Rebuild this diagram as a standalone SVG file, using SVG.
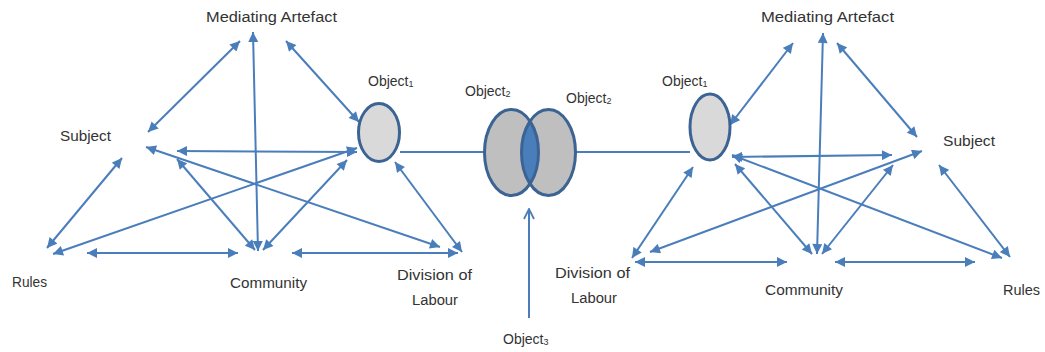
<svg xmlns="http://www.w3.org/2000/svg" width="1045" height="352" viewBox="0 0 1045 352">
  <defs>
    <style>
      .lbl { font-family: "Liberation Sans", Arial, sans-serif; font-size: 14px; fill: #333333; }
      .sub { font-size: 9px; }
      .arr { stroke: #4a7ebb; stroke-width: 2; fill: none; marker-start: url(#ah); marker-end: url(#ah); }
      .link { stroke: #4a7ebb; stroke-width: 2; fill: none; }
      .obj { fill: #d9d9d9; stroke: #3b6393; stroke-width: 3; }
      .obj2 { fill: #bfbfbf; stroke: none; }
      .ring { fill: none; stroke: #3b6393; stroke-width: 3; }
    </style>
    <marker id="ah" viewBox="0 0 10 10" refX="10" refY="5" markerWidth="11" markerHeight="10" markerUnits="userSpaceOnUse" orient="auto-start-reverse">
      <path d="M0,0 L10,5 L0,10 z" fill="#4a7ebb"/>
    </marker>
    <marker id="open" viewBox="0 0 12 12" refX="11" refY="6" markerWidth="12" markerHeight="12" markerUnits="userSpaceOnUse" orient="auto">
      <path d="M1,1 L11,6 L1,11" fill="none" stroke="#4a7ebb" stroke-width="1.8"/>
    </marker>
    <clipPath id="lensClip">
      <ellipse cx="511.5" cy="152.5" rx="27" ry="43"/>
    </clipPath>
  </defs>

  <!-- connectors -->
  <g id="connectors">
    <!-- left activity system -->
    <line class="arr" x1="240" y1="41" x2="148" y2="132"/>
    <line class="arr" x1="253" y1="32" x2="258" y2="251"/>
    <line class="arr" x1="286" y1="41" x2="359" y2="122"/>
    <line class="arr" x1="357" y1="152" x2="177" y2="151"/>
    <line class="arr" x1="146" y1="147" x2="440" y2="247"/>
    <line class="arr" x1="177" y1="159" x2="255" y2="250"/>
    <line class="arr" x1="47" y1="248" x2="122" y2="158"/>
    <line class="arr" x1="53" y1="254" x2="357" y2="148"/>
    <line class="arr" x1="87" y1="253" x2="238" y2="253"/>
    <line class="arr" x1="292" y1="253" x2="458" y2="253"/>
    <line class="arr" x1="263" y1="250" x2="347" y2="160"/>
    <line class="arr" x1="462" y1="252" x2="395" y2="162"/>
    <!-- right activity system -->
    <line class="arr" x1="793" y1="43" x2="730" y2="125"/>
    <line class="arr" x1="823" y1="33" x2="817" y2="254"/>
    <line class="arr" x1="837" y1="43" x2="917" y2="137"/>
    <line class="arr" x1="732" y1="157" x2="892" y2="155"/>
    <line class="arr" x1="650" y1="252" x2="922" y2="151"/>
    <line class="arr" x1="732" y1="155" x2="1002" y2="258"/>
    <line class="arr" x1="735" y1="164" x2="812" y2="254"/>
    <line class="arr" x1="822" y1="254" x2="893" y2="165"/>
    <line class="arr" x1="939" y1="165" x2="1010" y2="257"/>
    <line class="arr" x1="632" y1="258" x2="693" y2="167"/>
    <line class="arr" x1="635" y1="262" x2="787" y2="262"/>
    <line class="arr" x1="835" y1="262" x2="975" y2="262"/>
    <!-- shared object links -->
    <line class="link" x1="400" y1="152" x2="485" y2="152"/>
    <line class="link" x1="576" y1="152" x2="690" y2="152"/>
    <line class="link" x1="529" y1="318" x2="529" y2="209" marker-end="url(#open)"/>
  </g>

  <!-- left system nodes -->
  <g id="left-artefact">
    <text class="lbl" x="206" y="22" textLength="131" lengthAdjust="spacingAndGlyphs">Mediating  Artefact</text>
  </g>
  <g id="left-subject">
    <text class="lbl" x="60" y="141" textLength="51" lengthAdjust="spacingAndGlyphs">Subject</text>
  </g>
  <g id="left-rules">
    <text class="lbl" x="12" y="287" textLength="35" lengthAdjust="spacingAndGlyphs">Rules</text>
  </g>
  <g id="left-community">
    <text class="lbl" x="230" y="288" textLength="77" lengthAdjust="spacingAndGlyphs">Community</text>
  </g>
  <g id="left-division">
    <text class="lbl" x="397" y="280" textLength="75" lengthAdjust="spacingAndGlyphs">Division  of</text>
    <text class="lbl" x="412" y="305" textLength="46" lengthAdjust="spacingAndGlyphs">Labour</text>
  </g>
  <g id="left-object1">
    <ellipse class="obj" cx="379" cy="132.5" rx="20.5" ry="29"/>
    <text class="lbl" x="368" y="86">Object<tspan class="sub" dy="1">1</tspan></text>
  </g>

  <!-- shared object -->
  <g id="object2">
    <ellipse class="obj2" cx="511.5" cy="152.5" rx="27" ry="43"/>
    <ellipse class="obj2" cx="548.5" cy="152.5" rx="27" ry="43"/>
    <ellipse cx="548.5" cy="152.5" rx="27" ry="43" fill="#4a7ebb" clip-path="url(#lensClip)"/>
    <ellipse class="ring" cx="511.5" cy="152.5" rx="27" ry="43"/>
    <ellipse class="ring" cx="548.5" cy="152.5" rx="27" ry="43"/>
    <text class="lbl" x="465" y="96">Object<tspan class="sub" dy="1">2</tspan></text>
    <text class="lbl" x="566" y="103">Object<tspan class="sub" dy="1">2</tspan></text>
  </g>
  <g id="object3">
    <text class="lbl" x="503" y="344">Object<tspan class="sub" dy="1">3</tspan></text>
  </g>

  <!-- right system nodes -->
  <g id="right-artefact">
    <text class="lbl" x="761" y="22" textLength="133" lengthAdjust="spacingAndGlyphs">Mediating  Artefact</text>
  </g>
  <g id="right-subject">
    <text class="lbl" x="943" y="146" textLength="52" lengthAdjust="spacingAndGlyphs">Subject</text>
  </g>
  <g id="right-rules">
    <text class="lbl" x="1003" y="295" textLength="37" lengthAdjust="spacingAndGlyphs">Rules</text>
  </g>
  <g id="right-community">
    <text class="lbl" x="765" y="295" textLength="78" lengthAdjust="spacingAndGlyphs">Community</text>
  </g>
  <g id="right-division">
    <text class="lbl" x="555" y="278" textLength="75" lengthAdjust="spacingAndGlyphs">Division  of</text>
    <text class="lbl" x="571" y="303" textLength="46" lengthAdjust="spacingAndGlyphs">Labour</text>
  </g>
  <g id="right-object1">
    <ellipse class="obj" cx="710" cy="127" rx="20" ry="33"/>
    <text class="lbl" x="662" y="86">Object<tspan class="sub" dy="1">1</tspan></text>
  </g>
</svg>
